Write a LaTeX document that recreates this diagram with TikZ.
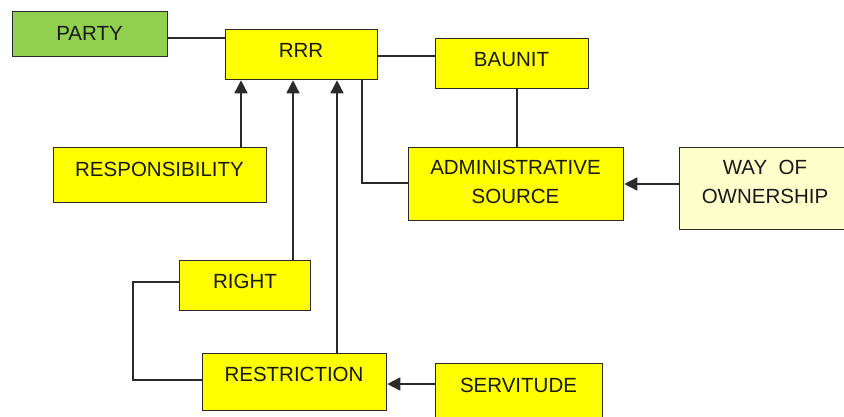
\documentclass[tikz,border=0pt]{standalone}
\usepackage{fontspec}
\setmainfont{Liberation Sans}
\usetikzlibrary{arrows.meta,calc}
\definecolor{boxyellow}{HTML}{FFFF00}
\definecolor{boxgreen}{HTML}{92D050}
\definecolor{boxcream}{HTML}{FFFFCC}
\definecolor{edgegray}{HTML}{2A2A2A}
\tikzset{
  box/.style={draw=edgegray, line width=1.3pt, fill=boxyellow, rectangle, inner sep=0pt, anchor=north west},
  txt/.style={font=\fontsize{20.5}{29.5}\selectfont, text=black!90, align=center, inner sep=0pt},
  conn/.style={draw=edgegray, line width=1.6pt},
  arr/.style={conn, -{Triangle[length=13pt,width=13pt]}},
}
\begin{document}
\begin{tikzpicture}[x=1pt,y=-1pt]
\useasboundingbox (0,0) rectangle (844,417);
% boxes
\node[box, fill=boxgreen, minimum width=155pt, minimum height=45pt] (party) at (12,11) {};
\node[box, minimum width=152pt, minimum height=50pt] (rrr) at (225,29) {};
\node[box, minimum width=153pt, minimum height=50pt] (baunit) at (435,38) {};
\node[box, minimum width=213pt, minimum height=55pt] (resp) at (53,147) {};
\node[box, minimum width=215pt, minimum height=73pt] (admin) at (408,147) {};
\node[box, fill=boxcream, minimum width=172pt, minimum height=82pt] (way) at (679,147) {};
\node[box, minimum width=131pt, minimum height=50pt] (right) at (179,260) {};
\node[box, minimum width=184pt, minimum height=57pt] (restr) at (202,353) {};
\node[box, minimum width=167pt, minimum height=60pt] (serv) at (435,363) {};
% texts
\node[txt] (tparty) at (89.5,33) {PARTY};
\node[txt] (trrr) at (301,50) {RRR};
\node[txt] (tbaunit) at (511.5,60) {BAUNIT};
\node[txt] (tresp) at (159.5,169.5) {RESPONSIBILITY};
\node[txt] (tadmin) at (515.5,182) {ADMINISTRATIVE\\SOURCE};
\node[txt] (tway) at (765,182) {WAY\ \ OF\\OWNERSHIP};
\node[txt] (tright) at (245,281.5) {RIGHT};
\node[txt] (trestr) at (294,374) {RESTRICTION};
\node[txt] (tserv) at (518.5,385) {SERVITUDE};
% connectors
\draw[conn] (party.east |- 0,38) -- (rrr.west |- 0,38);
\draw[conn] (rrr.east |- 0,56) -- (baunit.west |- 0,56);
\draw[conn] (baunit.south -| 517,0) -- (admin.north -| 517,0);
\draw[conn] (rrr.south -| 362,0) -- (362,183) -- (admin.west |- 0,183);
\draw[arr] (resp.north -| 241,0) -- (rrr.south -| 241,0);
\draw[arr] (right.north -| 293,0) -- (rrr.south -| 293,0);
\draw[arr] (restr.north -| 337,0) -- (rrr.south -| 337,0);
\draw[arr] (way.west |- 0,184) -- (admin.east |- 0,184);
\draw[arr] (serv.west |- 0,384) -- (restr.east |- 0,384);
\draw[conn] (right.west |- 0,282) -- (133,282) -- (133,380) -- (restr.west |- 0,380);
\end{tikzpicture}
\end{document}
